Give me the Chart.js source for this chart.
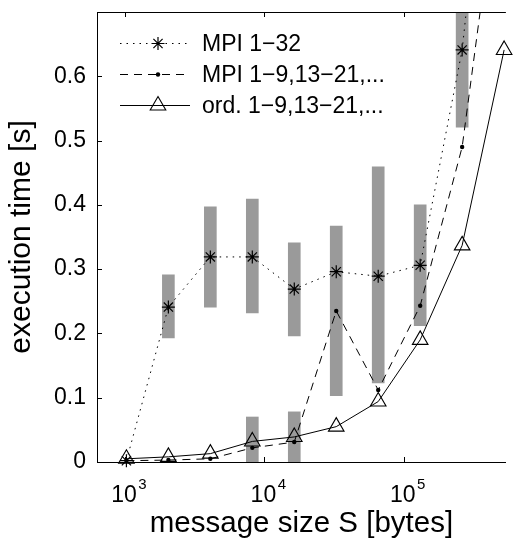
<!DOCTYPE html>
<html lang="en">
<head>
<meta charset="UTF-8">
<title>execution time vs message size</title>
<script src="https://cdn.jsdelivr.net/npm/chart.js"></script>
<style>
  html, body { margin: 0; padding: 0; background: #fff; }
  #wrap { width: 516px; height: 539px; }
</style>
</head>
<body>
<div id="wrap"><canvas id="chart"></canvas></div>
<script>
  // message sizes in bytes
  const sizes = [1024, 2048, 4096, 8192, 16384, 32768, 65536, 131072, 262144, 524288];
  // execution times [s]
  const mpiAll = [0.002, 0.241, 0.319, 0.319, 0.269, 0.296, 0.289, 0.306, 0.641, 1.25];
  const mpiSub = [0.002, 0.003, 0.005, 0.022, 0.031, 0.235, 0.112, 0.243, 0.490, 0.98];
  const ordSub = [0.005, 0.008, 0.013, 0.032, 0.039, 0.055, 0.094, 0.190, 0.337, 0.641];

  // spread of the runs (gray bars)
  const rangeSizes = [2048, 4096, 8192, 16384, 32768, 65536, 131072, 262144];
  const rangeLow  = [0.193, 0.241, 0.232, 0.196, 0.103, 0.123, 0.212, 0.521];
  const rangeHigh = [0.291, 0.397, 0.409, 0.341, 0.367, 0.459, 0.400, 0.900];
  const lowSizes = [8192, 16384];
  const lowLow  = [0, 0];
  const lowHigh = [0.070, 0.078];

  const xTicks = [1e3, 1e4, 1e5];
  const xTickExp = ['3', '4', '5'];
  const yTicks = [0, 0.1, 0.2, 0.3, 0.4, 0.5, 0.6];
  const labels = ['MPI 1\u221232', 'MPI 1\u22129,13\u221221,...', 'ord. 1\u22129,13\u221221,...'];

  const FONT = "'Liberation Sans', Arial, Helvetica, sans-serif";
  const GRAY = '#9a9a9a';

  const pts = (xs, ys) => xs.map((x, i) => ({ x: x, y: ys[i] }));
  const bars = (xs, lo, hi) => xs.map((x, i) => ({ x: x, y: [lo[i], hi[i]] }));
  const lineClip = { left: 12, top: 0, right: 12, bottom: 12 };

  const series = [
    { label: labels[0], data: pts(sizes, mpiAll), borderDash: [1.5, 5], pointStyle: 'star', pointRadius: 6.5, pointBorderWidth: 1.2, pointBackgroundColor: '#000' },
    { label: labels[1], data: pts(sizes, mpiSub), borderDash: [8, 6], pointStyle: 'circle', pointRadius: 2.2, pointBorderWidth: 0, pointBackgroundColor: '#000' },
    { label: labels[2], data: pts(sizes, ordSub), borderDash: [], pointStyle: 'triangle', pointRadius: 9, pointBorderWidth: 1.1, pointBackgroundColor: 'rgba(0,0,0,0)' }
  ];

  const frame = {
    id: 'frame',
    afterDraw(chart) {
      const { ctx, chartArea: a, scales: { x, y } } = chart;
      ctx.save();
      ctx.strokeStyle = '#000';
      ctx.lineWidth = 1;
      ctx.beginPath();
      ctx.moveTo(a.left, a.top + 0.5);
      ctx.lineTo(a.right, a.top + 0.5);
      yTicks.forEach(v => {
        const py = Math.round(y.getPixelForValue(v)) + 0.5;
        ctx.moveTo(a.left, py);
        ctx.lineTo(a.left + 5, py);
      });
      xTicks.forEach(v => {
        const px = Math.round(x.getPixelForValue(v)) + 0.5;
        ctx.moveTo(px, a.bottom);
        ctx.lineTo(px, a.bottom - 5);
        ctx.moveTo(px, a.top);
        ctx.lineTo(px, a.top + 5);
      });
      ctx.stroke();

      // x tick labels 10^n
      ctx.fillStyle = '#000';
      ctx.textBaseline = 'alphabetic';
      xTicks.forEach((v, i) => {
        const px = x.getPixelForValue(v) - 1;
        ctx.font = '23px ' + FONT;
        ctx.textAlign = 'center';
        ctx.fillText('10', px, a.bottom + 40);
        const w = ctx.measureText('10').width;
        ctx.font = '15px ' + FONT;
        ctx.textAlign = 'left';
        ctx.fillText(xTickExp[i], px + w / 2 + 1.5, a.bottom + 27);
      });

      // legend
      const rows = [43.5, 74.5, 105.5];
      series.forEach((s, i) => {
        const ry = rows[i];
        ctx.save();
        ctx.strokeStyle = '#000';
        ctx.lineWidth = 1;
        ctx.setLineDash(s.borderDash);
        ctx.beginPath();
        ctx.moveTo(120, ry);
        ctx.lineTo(190, ry);
        ctx.stroke();
        ctx.setLineDash([]);
        ctx.fillStyle = s.pointBackgroundColor;
        ctx.lineWidth = s.pointBorderWidth;
        Chart.helpers.drawPoint(ctx, { pointStyle: s.pointStyle, radius: s.pointRadius, rotation: 0, borderWidth: s.pointBorderWidth }, 158, ry);
        ctx.restore();
        ctx.fillStyle = '#000';
        ctx.font = '23px ' + FONT;
        ctx.textAlign = 'left';
        ctx.textBaseline = 'middle';
        ctx.fillText(s.label, 202, ry + 1);
      });
      ctx.restore();
    }
  };

  const datasets = series.map((s, i) => ({
    type: 'line',
    label: s.label,
    data: s.data,
    borderColor: '#000',
    borderWidth: 1,
    borderDash: s.borderDash,
    pointStyle: s.pointStyle,
    pointRadius: s.pointRadius,
    pointBorderColor: '#000',
    pointBorderWidth: s.pointBorderWidth,
    pointBackgroundColor: s.pointBackgroundColor,
    fill: false,
    tension: 0,
    clip: lineClip,
    order: i + 1
  }));
  datasets.push({
    type: 'bar', label: 'spread', data: bars(rangeSizes, rangeLow, rangeHigh),
    backgroundColor: GRAY, borderWidth: 0, barThickness: 12, grouped: false, order: 10
  });
  datasets.push({
    type: 'bar', label: 'spread low', data: bars(lowSizes, lowLow, lowHigh),
    backgroundColor: GRAY, borderWidth: 0, barThickness: 12, grouped: false, order: 11
  });

  new Chart(document.getElementById('chart'), {
    type: 'line',
    data: { datasets: datasets },
    options: {
      responsive: true,
      maintainAspectRatio: false,
      animation: false,
      layout: { padding: { top: 12, right: 0, left: 0, bottom: 0 } },
      plugins: { legend: { display: false }, tooltip: { enabled: false } },
      scales: {
        x: {
          type: 'logarithmic',
          min: 630,
          max: 540000,
          grid: { display: false, drawTicks: false },
          border: { display: true, color: '#000', width: 1 },
          ticks: { display: false },
          title: { display: true, text: 'message size S [bytes]', color: '#000', font: { family: FONT, size: 29.5, lineHeight: 1 }, padding: 0 },
          afterFit(s) { s.height = 77; s.paddingLeft = 0; s.paddingRight = 0; }
        },
        y: {
          type: 'linear',
          min: 0,
          max: 0.7,
          grid: { display: false, drawTicks: false },
          border: { display: true, color: '#000', width: 1 },
          afterBuildTicks(s) { s.ticks = yTicks.map(v => ({ value: v })); },
          ticks: {
            padding: 11,
            color: '#000',
            font: { family: FONT, size: 23 },
            callback: v => v === 0 ? '0' : v.toFixed(1)
          },
          title: { display: true, text: 'execution time [s]', color: '#000', font: { family: FONT, size: 30, lineHeight: 1 }, padding: { top: 7, bottom: 0 } },
          afterFit(s) { s.width = 97; s.paddingTop = 0; s.paddingBottom = 0; }
        }
      }
    },
    plugins: [frame]
  });
</script>
</body>
</html>
